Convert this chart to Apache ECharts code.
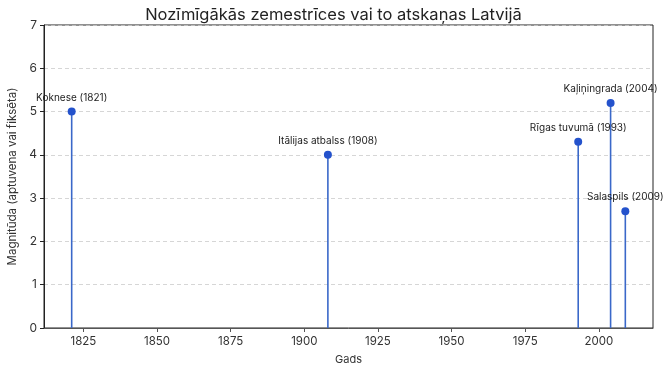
<!DOCTYPE html>
<html><head><meta charset="utf-8">
<script src="https://cdn.jsdelivr.net/npm/echarts@6/dist/echarts.min.js"></script>
<style>html,body{margin:0;padding:0;background:#fff}#c{width:667px;height:368px}</style>
</head><body><div id="c"></div>
<script>
const years = [1821, 1908, 1993, 2004, 2009];
const magnitudes = [5.0, 4.0, 4.3, 5.2, 2.7];
const names = ['Koknese (1821)', 'Itālijas atbalss (1908)', 'Rīgas tuvumā (1993)', 'Kaļiņingrada (2004)', 'Salaspils (2009)'];
const xTicks = [1825, 1850, 1875, 1900, 1925, 1950, 1975, 2000];
const yTicks = [0, 1, 2, 3, 4, 5, 6, 7];

const pts = years.map((y, i) => [y, magnitudes[i], names[i]]);
const chart = echarts.init(document.getElementById('c'));
const font = 'Inter, Roboto, "Noto Sans", sans-serif';
chart.setOption({
  animation: false,
  title: { text: 'Nozīmīgākās zemestrīces vai to atskaņas Latvijā', left: 'center', top: 2,
    textStyle: { fontFamily: font, fontSize: 16.5, fontWeight: 'normal', color: '#222' } },
  grid: { left: 44, right: 14, top: 25, bottom: 40, show: true, borderColor: '#222', borderWidth: 1, outerBoundsMode: 'none', containLabel: false },
  xAxis: { type: 'value', min: 1811.6, max: 2018.4, name: 'Gads', nameLocation: 'middle', nameGap: 26,
    nameTextStyle: { fontFamily: font, fontSize: 11, color: '#333' },
    axisLine: { show: true, lineStyle: { color: '#555' } },
    axisTick: { show: true, customValues: xTicks, length: 4, lineStyle: { color: '#555' } },
    axisLabel: { customValues: xTicks, formatter: v => String(v), fontFamily: font, fontSize: 11.5, color: '#333', margin: 8 },
    splitLine: { show: false } },
  yAxis: { type: 'value', min: 0, max: 7, interval: 1, name: 'Magnitūda (aptuvena vai fiksēta)', nameLocation: 'middle', nameGap: 18,
    nameTextStyle: { fontFamily: font, fontSize: 11.5, color: '#333' },
    axisLine: { show: true, lineStyle: { color: '#222' } },
    axisTick: { show: true, length: 4, lineStyle: { color: '#222' } },
    axisLabel: { fontFamily: font, fontSize: 12, color: '#333', margin: 7 },
    splitLine: { show: true, lineStyle: { type: [4, 3], color: '#ccc', width: 0.8 } } },
  series: [
    { type: 'custom', data: pts, encode: { x: 0, y: 1 }, z: 2,
      renderItem: function (params, api) {
        const top = api.coord([api.value(0), api.value(1)]);
        const bot = api.coord([api.value(0), 0]);
        return { type: 'line', shape: { x1: top[0], y1: top[1], x2: bot[0], y2: bot[1] },
          style: { stroke: '#3a68c9', lineWidth: 1.6 } };
      } },
    { type: 'scatter', data: pts, symbolSize: 8, z: 3,
      itemStyle: { color: '#2452cc', opacity: 1 },
      label: { show: true, position: 'top', distance: 5, formatter: p => p.data[2],
        fontFamily: font, fontSize: 10, color: '#222' } }
  ]
});
</script></body></html>
